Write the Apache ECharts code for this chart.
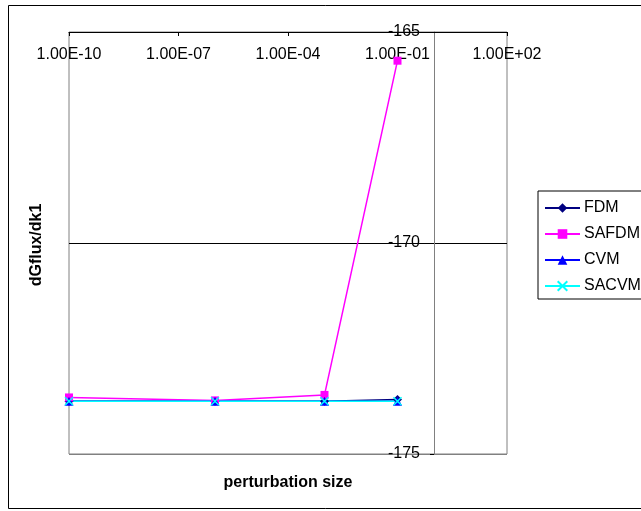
<!DOCTYPE html>
<html>
<head>
<meta charset="utf-8">
<script src="https://cdn.jsdelivr.net/npm/echarts@6/dist/echarts.min.js"></script>
<style>
html,body{margin:0;padding:0;background:#fff;}
#chart{width:641px;height:511px;}
</style>
</head>
<body>
<div id="chart"></div>
<script>
// ---- data ----
const xValues = [1e-10, 1e-6, 1e-3, 1e-1];
const fdm   = [-173.75, -173.75, -173.75, -173.71];
const safdm = [-173.66, -173.73, -173.60, -165.68];
const cvm   = [-173.75, -173.75, -173.75, -173.75];
const sacvm = [-173.75, -173.75, -173.75, -173.75];
const seriesNames = ['FDM', 'SAFDM', 'CVM', 'SACVM'];
const xTickLabels = ['1.00E-10', '1.00E-07', '1.00E-04', '1.00E-01', '1.00E+02'];
const yTickLabels = ['-175', '-170', '-165'];
const xTitle = 'perturbation size';
const yTitle = 'dGflux/dk1';

// ---- layout ----
const W = 641, H = 511;
const gLeft = 69, gRight = 134, gTop = 32, gBottom = 57;
const xMinExp = -10, xMaxExp = 2, yCrossExp = 0;
const gridW = W - gLeft - gRight;
const yOffset = -gridW * (yCrossExp - xMinExp) / (xMaxExp - xMinExp);

function pts(arr) { return xValues.map((x, i) => [x, arr[i]]); }

const font = '"Liberation Sans", Arial, sans-serif';
const chart = echarts.init(document.getElementById('chart'), null, {renderer: 'canvas'});
const xMark = 'path://M0,0L10,10M10,0L0,10';

chart.setOption({
  animation: false,
  backgroundColor: '#fff',
  textStyle: {fontFamily: font},
  grid: {left: gLeft, right: gRight, top: gTop, bottom: gBottom, show: true,
         borderColor: '#808080', borderWidth: 1, backgroundColor: 'transparent'},
  xAxis: {
    type: 'log', logBase: 10, min: 1e-10, max: 1e2, interval: 3,
    position: 'top',
    axisLine: {show: true, lineStyle: {color: '#000', width: 1}},
    axisTick: {show: true, inside: true, length: 4, lineStyle: {color: '#000'}},
    axisLabel: {inside: true, margin: 15, fontSize: 16, color: '#000', fontFamily: font,
                formatter: (v, i) => xTickLabels[i] !== undefined ? xTickLabels[i] : ''},
    splitLine: {show: false},
    minorTick: {show: false}
  },
  yAxis: {
    type: 'value', min: -175, max: -165, interval: 5,
    position: 'left', offset: yOffset,
    axisLine: {show: true, lineStyle: {color: '#808080', width: 1}},
    axisTick: {show: true, inside: false, length: 4, lineStyle: {color: '#000'}},
    axisLabel: {margin: 14, fontSize: 16, color: '#000', fontFamily: font,
                formatter: (v, i) => yTickLabels[i] !== undefined ? yTickLabels[i] : String(v)},
    splitLine: {show: true, lineStyle: {color: ['#808080', '#000000', '#000000'], width: 1}}
  },
  legend: {
    orient: 'vertical', left: 538, top: 191,
    data: seriesNames,
    itemWidth: 35, itemHeight: 12, itemGap: 10,
    padding: [9, 40, 5, 6],
    borderColor: '#000', borderWidth: 1, backgroundColor: '#fff',
    textStyle: {fontSize: 16, color: '#000', fontFamily: font, padding: [0, 0, 0, -1]}
  },
  series: [
    {name: 'FDM', type: 'line', data: pts(fdm), symbol: 'diamond', symbolSize: 9,
     color: '#000080', lineStyle: {width: 1.5, color: '#000080'}, itemStyle: {color: '#000080'}},
    {name: 'SAFDM', type: 'line', data: pts(safdm), symbol: 'rect', symbolSize: 8,
     color: '#FF00FF', lineStyle: {width: 1.5, color: '#FF00FF'}, itemStyle: {color: '#FF00FF'}},
    {name: 'CVM', type: 'line', data: pts(cvm), symbol: 'triangle', symbolSize: 9,
     color: '#0000FF', lineStyle: {width: 1.5, color: '#0000FF'}, itemStyle: {color: '#0000FF'}},
    {name: 'SACVM', type: 'line', data: pts(sacvm), symbol: xMark, symbolSize: 8,
     color: '#00FFFF', lineStyle: {width: 1.5, color: '#00FFFF'},
     itemStyle: {color: '#00FFFF', borderColor: '#00FFFF', borderWidth: 1.5}}
  ],
  graphic: [
    {type: 'rect', silent: true, z: -10,
     shape: {x: 8.5, y: 5.5, width: 700, height: 503},
     style: {fill: null, stroke: '#000', lineWidth: 1}},
    {type: 'text', silent: true, x: 288, y: 483,
     style: {text: xTitle, font: 'bold 16px ' + font, fill: '#000', align: 'center', verticalAlign: 'middle'}},
    {type: 'text', silent: true, x: 37, y: 245, rotation: Math.PI / 2,
     style: {text: yTitle, font: 'bold 16px ' + font, fill: '#000', align: 'center', verticalAlign: 'middle'}}
  ]
});
</script>
</body>
</html>
